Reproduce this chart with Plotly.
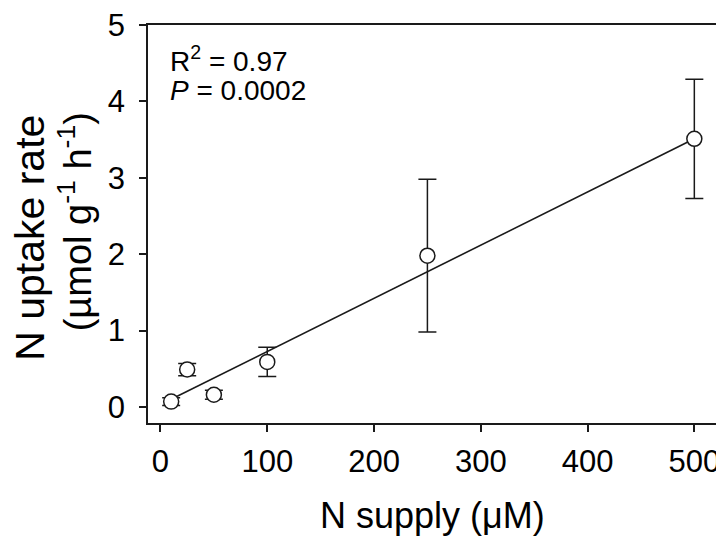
import plotly.graph_objects as go

# ---- data ----
n_supply = [10, 25, 50, 100, 250, 500]          # µM
uptake_rate = [0.07, 0.49, 0.16, 0.59, 1.98, 3.51]  # µmol g-1 h-1
uptake_se = [0.05, 0.08, 0.06, 0.19, 1.00, 0.78]

fit_x = [10, 500]
fit_y = [0.10, 3.51]

x_tick_vals = [0, 100, 200, 300, 400, 500]
y_tick_vals = [0, 1, 2, 3, 4, 5]

r2_text = "R<sup>2</sup> = 0.97"
p_text = "<i>P</i> = 0.0002"
x_title = "N supply (μM)"
y_title_1 = "N uptake rate"
y_title_2 = "(µmol g<sup>-1</sup> h<sup>-1</sup>)"

FONT = "Arial, Liberation Sans, Helvetica, sans-serif"
INK = "#1a1a1a"

fig = go.Figure()
fig.add_trace(go.Scatter(
    x=fit_x, y=fit_y, mode="lines",
    line=dict(color=INK, width=1.6), showlegend=False, hoverinfo="skip"))
fig.add_trace(go.Scatter(
    x=n_supply, y=uptake_rate, mode="markers",
    marker=dict(symbol="circle", size=15, color="white",
                line=dict(color=INK, width=1.5)),
    error_y=dict(type="data", array=uptake_se, visible=True,
                 color=INK, thickness=1.5, width=9),
    showlegend=False))

axis_common = dict(
    showline=True, linecolor=INK, linewidth=1.5, mirror=True,
    ticks="outside", ticklen=7, tickwidth=1.5, tickcolor=INK,
    showgrid=False, zeroline=False, automargin=False,
    ticklabeloverflow="allow",
    tickfont=dict(family=FONT, size=31, color="black"),
)

# the page adds an 8 px body margin, so the figure is sized to fit the window
fig.update_layout(
    width=716, height=532,
    margin=dict(l=140, r=8, t=17, b=117),
    paper_bgcolor="white", plot_bgcolor="white",
    font=dict(family=FONT, color="black"),
    xaxis=dict(range=[-11.7, 520.3], tickvals=x_tick_vals,
               ticklabelstandoff=3, **axis_common),
    yaxis=dict(range=[-0.21, 5.0], tickvals=y_tick_vals,
               ticklabelstandoff=8, **axis_common),
    annotations=[
        dict(text=r2_text, xref="paper", yref="paper", x=0.035, y=0.915,
             xanchor="left", yanchor="middle", showarrow=False,
             font=dict(family=FONT, size=28, color="black")),
        dict(text=p_text, xref="paper", yref="paper", x=0.035, y=0.835,
             xanchor="left", yanchor="middle", showarrow=False,
             font=dict(family=FONT, size=28, color="black")),
        dict(text=x_title, xref="paper", yref="paper", x=0.5, y=-0.232,
             xanchor="center", yanchor="middle", showarrow=False,
             font=dict(family=FONT, size=36, color="black")),
        dict(text=y_title_1, xref="paper", yref="paper", x=-0.208, y=0.465,
             xanchor="center", yanchor="middle", showarrow=False, textangle=-90,
             font=dict(family=FONT, size=41, color="black")),
        dict(text=y_title_2, xref="paper", yref="paper", x=-0.128, y=0.505,
             xanchor="center", yanchor="middle", showarrow=False, textangle=-90,
             font=dict(family=FONT, size=38, color="black")),
    ],
)

fig.write_html("out.html")
